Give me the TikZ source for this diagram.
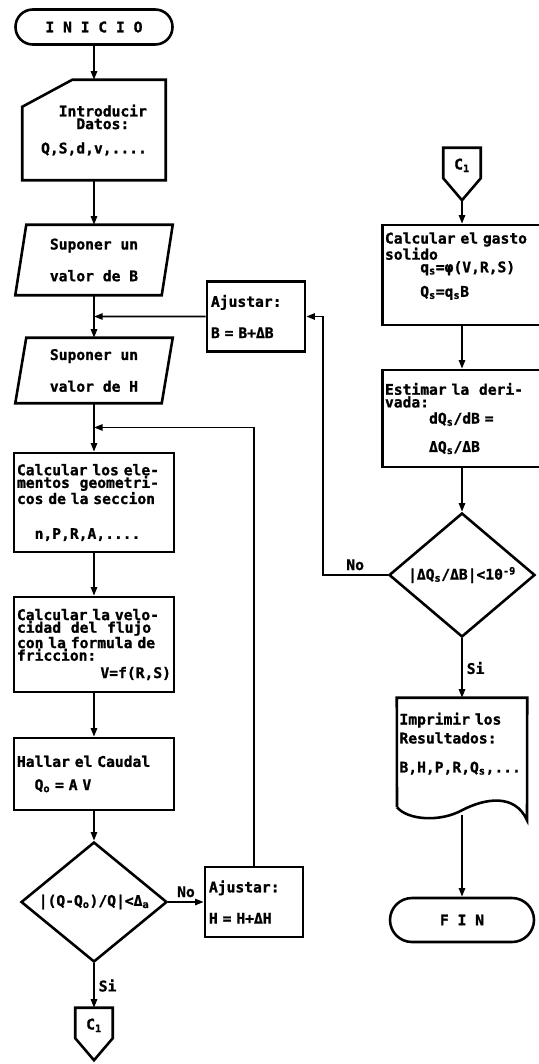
\documentclass[tikz,border=0pt]{standalone}
\usepackage{fontspec}
\newfontfamily\typer{DejaVu Sans Mono}[WordSpace={1,0,0}, BoldFeatures={FakeBold=1.2}]
\usepackage{tikz}
\usetikzlibrary{arrows.meta,positioning,shapes.geometric,calc}
\newcommand\flowfont{\typer\bfseries\fontsize{12.5}{10.8}\selectfont}

\begin{document}
\frenchspacing
\begin{tikzpicture}[
  x=0.03cm, y=-0.03cm,
  every node/.style={font=\flowfont},
  terminal/.style={draw, line width=2.2pt, inner sep=0pt},
  plain/.style={inner sep=0pt},
  process/.style={draw, line width=2.2pt, inner xsep=2pt, minimum width=4.8cm, text width=4.62cm, align=left},
  sidebox/.style={draw, line width=2.2pt, inner xsep=2pt, minimum width=4.68cm, text width=4.62cm, align=left},
  adjust/.style={draw, line width=2.2pt, minimum width=2.94cm, minimum height=2.1cm, text width=2.7cm, align=left},
  decision/.style={diamond, draw, line width=2.2pt, inner sep=0pt, aspect=1.2},
  connector/.style={plain, minimum width=1.11cm, minimum height=1.56cm, text depth=17pt},
  outline/.style={line width=2.2pt, line join=miter},
  arrow/.style={-{Triangle[length=2.6mm,width=1.9mm]}, line width=1.5pt},
]
  \useasboundingbox (0,0) rectangle (539,1064);

  % Left column
  \node[terminal, minimum width=4.71cm, minimum height=1.05cm, rounded corners=0.52cm] (inicio) at (94,27) {I N I C I O};

  \node[plain, minimum width=4.29cm, minimum height=3cm, align=left] (datos) at (94,130)
    {\phantom{00}Introducir\\\phantom{0000}Datos:\\[10pt]Q,S,d,v,....};
  \draw[outline] (datos.south west) -- (datos.south east) -- (datos.north east)
    -- ([xshift=1.5cm]datos.north west) -- ([yshift=-0.81cm]datos.north west) -- cycle;

  \node[plain, minimum width=4.38cm, minimum height=2.1cm, align=left] (supB) at (94,260)
    {Suponer un\\[14pt]valor de B};
  \draw[outline] ([xshift=-0.165cm]supB.south west) -- ([xshift=-0.165cm]supB.south east)
    -- ([xshift=0.165cm]supB.north east) -- ([xshift=0.165cm]supB.north west) -- cycle;

  \node[plain, minimum width=4.38cm, minimum height=1.95cm, align=left] (supH) at (94,370.5)
    {Suponer un\\[14pt]valor de H};
  \draw[outline] ([xshift=-0.165cm]supH.south west) -- ([xshift=-0.165cm]supH.south east)
    -- ([xshift=0.165cm]supH.north east) -- ([xshift=0.165cm]supH.north west) -- cycle;

  \node[process, minimum height=2.97cm] (geom) at (94,502.5)
    {Calcular los ele-\\mentos~~geometri-\\cos de la seccion\\[19pt]\phantom{00}n,P,R,A,....};
  \node[process, minimum height=2.85cm] (vel) at (94,644.5)
    {Calcular la velo-\\cidad~~del~~flujo\\con la formula de\\friccion:\\[4pt]\hfill V=f(R,S)};
  \node[process, minimum height=2.16cm] (hallar) at (94,774)
    {Hallar el Caudal\\[9pt]\phantom{00}Q\textsubscript{o} = A V};

  \node[decision, minimum width=4.38cm, minimum height=3.6cm] (dec1) at (94,902)
    {|(Q-Q\textsubscript{o})/Q|<Δ\textsubscript{a}};

  \node[connector] (c1a) at (94,1034) {C\textsubscript{1}};
  \draw[outline] (c1a.north west) -- (c1a.north east) -- ([yshift=0.66cm]c1a.south east)
    -- (c1a.south) -- ([yshift=0.66cm]c1a.south west) -- cycle;

  % Adjustments
  \node[adjust] (ajH) at (254,902) {Ajustar:\\[14pt]H = H+ΔH};
  \node[adjust] (ajB) at (256,316.5) {Ajustar:\\[14pt]B = B+ΔB};

  % Right column
  \node[connector] (c1b) at (462,174) {C\textsubscript{1}};
  \draw[outline] (c1b.north west) -- (c1b.north east) -- ([yshift=0.66cm]c1b.south east)
    -- (c1b.south) -- ([yshift=0.66cm]c1b.south west) -- cycle;

  \node[sidebox, minimum height=3cm] (gasto) at (462,275)
    {Calcular el gasto\\solido\\\phantom{0000}q\textsubscript{s}=φ(V,R,S)\\[8pt]\phantom{0000}Q\textsubscript{s}=q\textsubscript{s}B\\[7pt]\mbox{}};
  \node[sidebox, minimum height=2.91cm] (estimar) at (462,418.5)
    {Estimar la~~deri-\\vada:\\[3pt]\phantom{00000}dQ\textsubscript{s}/dB =\\[12pt]\phantom{00000}ΔQ\textsubscript{s}/ΔB};

  \node[decision, minimum width=4.38cm, minimum height=3.72cm] (dec2) at (462,575)
    {|ΔQ\textsubscript{s}/ΔB|<10\textsuperscript{-9}};

  \node[plain, minimum width=3.9cm, minimum height=3.51cm, text width=3.75cm, align=left] (imprimir) at (462,756.5)
    {Imprimir los\\[3pt]Resultados:\\[14pt]B,H,P,R,Q\textsubscript{s},...\\[13pt]\mbox{}};
  \draw[outline] ($(imprimir.south)+(-65,-8)$) -- (imprimir.north west) -- (imprimir.north east)
    -- ($(imprimir.south)+(65,5)$)
    .. controls ($(imprimir.south)+(53,-22)$) and ($(imprimir.south)+(23,-17)$) .. ($(imprimir.south)+(0,-5)$)
    .. controls ($(imprimir.south)+(-22,7)$) and ($(imprimir.south)+(-54,5)$) .. ($(imprimir.south)+(-65,-8)$);

  \node[terminal, minimum width=4.32cm, minimum height=1.32cm, rounded corners=0.66cm] (fin) at (462,920) {F I N};

  % Main flow
  \draw[arrow] (inicio) -- (datos);
  \draw[arrow] (datos) -- (supB);
  \draw[arrow] (supB) -- (supH);
  \draw[arrow] (supH) -- (geom);
  \draw[arrow] (geom) -- (vel);
  \draw[arrow] (vel) -- (hallar);
  \draw[arrow] (hallar) -- (dec1);
  \draw[arrow] (dec1) -- node[right] {Si} (c1a);
  \draw[arrow] (dec1) -- node[above] {No} (ajH);

  % Loops back
  \coordinate (jH) at ($(supH.south)!0.5!(geom.north)$);
  \coordinate (jB) at ($(supB.south)!0.5!(supH.north)$);
  \draw[arrow] (ajH.north) |- (jH);
  \draw[arrow] (ajB) -- (jB);

  \draw[arrow] (c1b) -- (gasto);
  \draw[arrow] (gasto) -- (estimar);
  \draw[arrow] (estimar) -- (dec2);
  \draw[arrow] (dec2) -- node[right] {Si} (imprimir);
  \draw[arrow] (imprimir) -- (fin);
  \draw[arrow] (dec2.west) -- node[above] {No} ++(-65,0) |- (ajB.east);

\end{tikzpicture}
\end{document}
